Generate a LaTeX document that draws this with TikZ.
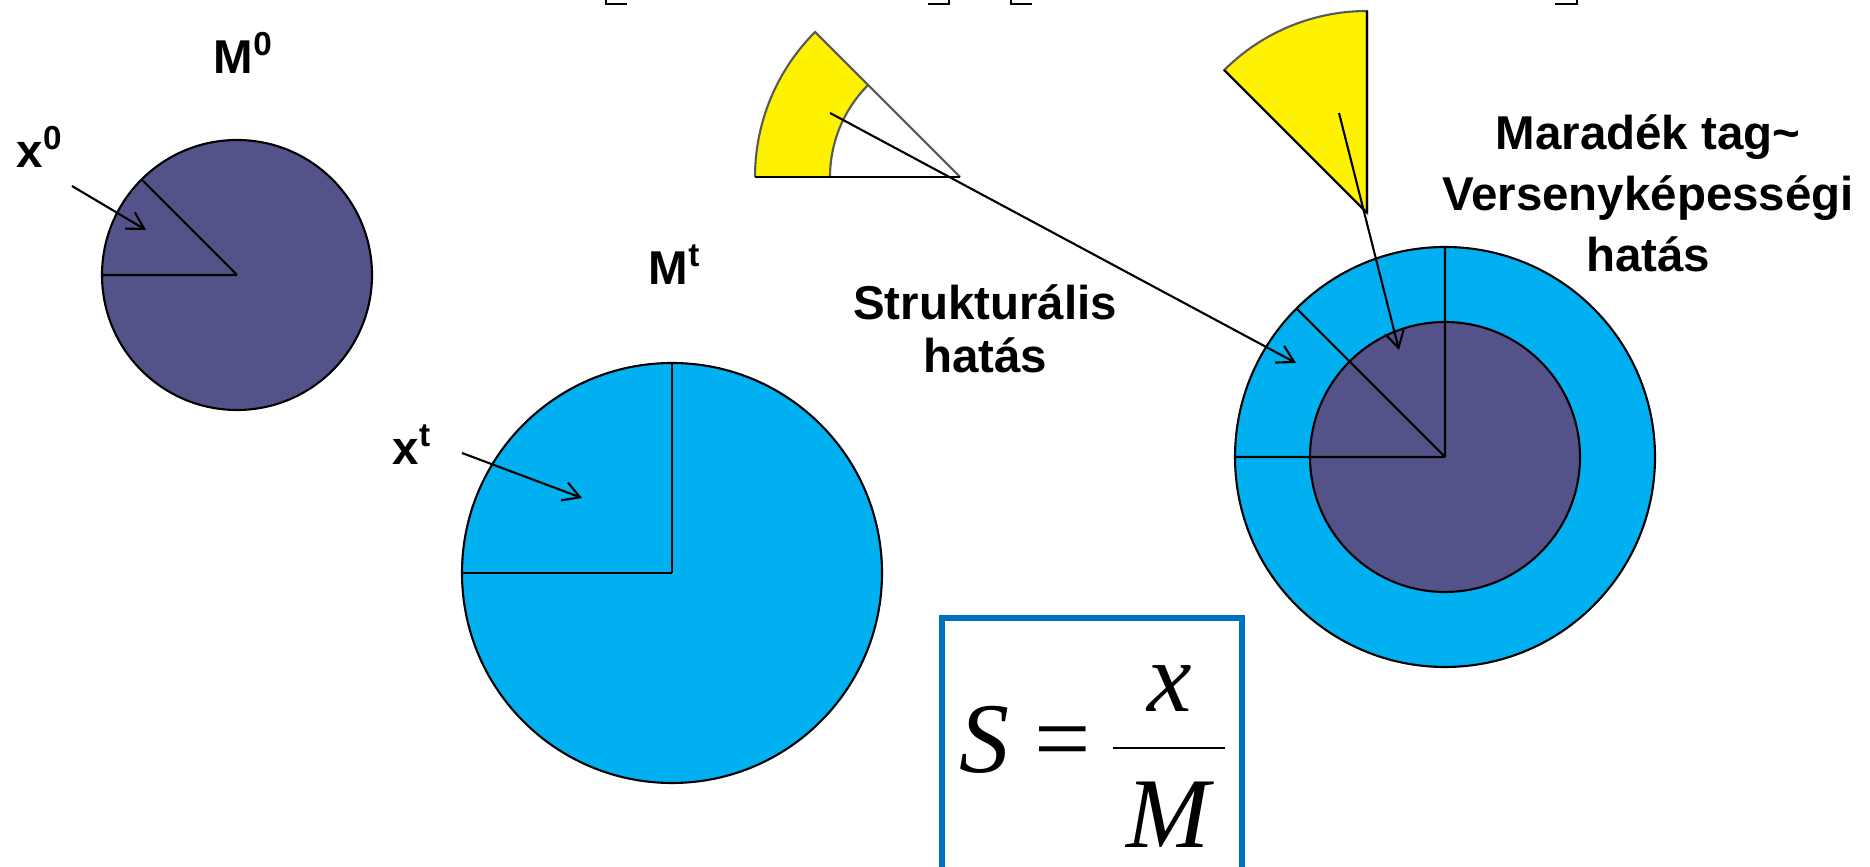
\documentclass[tikz,border=0pt]{standalone}
\usepackage{fontspec}
\setmainfont{Liberation Sans}
\newfontfamily\timesfont{Liberation Serif}
\usepackage{xcolor}
\usetikzlibrary{arrows.meta}
\definecolor{darkpie}{RGB}{83,83,137}
\definecolor{lightpie}{RGB}{0,176,240}
\definecolor{boxblue}{RGB}{0,112,192}
\tikzset{
lbl/.style={font=\fontsize{13.5}{15.1}\selectfont\bfseries,align=center,inner sep=0pt},
pie/.style={draw=black,line width=0.6pt},
ptr/.style={-{Straight Barb[length=1.65mm,width=1.9mm]},line width=0.6pt},
frm/.style={font=\fontsize{28.45}{30}\selectfont\timesfont\itshape,inner sep=0pt}}
\begin{document}
\begin{tikzpicture}[x=0.01cm,y=0.01cm]
\clip(0,0)rectangle(1870,867);
\fill[white](0,0)rectangle(1870,867);
\draw[line width=0.8pt](606,870)--(606,863)--(627,863) (928,863)--(949,863)--(949,870)
(1011,870)--(1011,863)--(1032,863) (1555,863)--(1577,863)--(1577,870);
\coordinate(c0)at(237,592);
\coordinate(ct)at(672,294);
\coordinate(cr)at(1445,410);
\coordinate(s1)at(960,690);
\coordinate(s2)at(1367,654);
\draw[pie,fill=darkpie](c0)circle(135);
\draw[pie](c0)--+(180:135) (c0)--+(135:135);
\draw[pie,fill=lightpie](ct)circle(210);
\draw[pie](ct)--+(180:210) (ct)--+(90:210);
\draw[pie,fill=lightpie](cr)circle(210);
\draw[pie,fill=darkpie](cr)circle(135);
\draw[pie](cr)--+(180:210) (cr)--+(90:210) (cr)--+(135:210);
\fill[yellow](s1)++(180:205)arc[start angle=180,end angle=135,radius=205]--++(315:75)
arc[start angle=135,end angle=180,radius=130]--cycle;
\draw[gray!70!black,line width=0.6pt](s1)++(180:205)arc[start angle=180,end angle=135,radius=205]--(s1);
\draw[gray!70!black,line width=0.6pt](s1)++(180:130)arc[start angle=180,end angle=135,radius=130];
\draw[line width=0.8pt](s1)--+(180:205);
\draw[gray!70!black,fill=yellow,line width=0.6pt](s2)--+(90:202)arc[start angle=90,end angle=135,radius=202]--cycle;
\draw[line width=0.6pt](s2)--+(90:202) (s2)--+(135:202);
\coordinate(t0)at(72,681);\coordinate(h0)at(146,637);
\coordinate(tt)at(462,414);\coordinate(ht)at(582,369);
\coordinate(t1)at(830,754);\coordinate(h1)at(1296,504);
\coordinate(t2)at(1339,754);\coordinate(h2)at(1399,517);
\draw[ptr](t0)--(h0);
\draw[ptr](tt)--(ht);
\draw[ptr](t1)--(h1);
\draw[ptr](t2)--(h2);
\node[lbl,anchor=base west](m0)at(213,793){M\textsuperscript{0}};
\node[lbl,anchor=base west](x0)at(16,699){x\textsuperscript{0}};
\node[lbl,anchor=base west](mt)at(648,582){M\textsuperscript{t}};
\node[lbl,anchor=base west](xt)at(392,402){x\textsuperscript{t}};
\node[lbl](struct)at(985,538){Strukturális\\hatás};
\node[lbl,font=\fontsize{13.5}{17.3}\selectfont\bfseries](marad)at(1648,674){Maradék tag\textasciitilde\\Versenyképességi\\hatás};
\draw[boxblue,line width=1.7pt](942,249)rectangle(1242,-20);
\node[frm,anchor=base west](fs)at(959,94){S};
\node[frm,anchor=base,font=\fontsize{28.45}{30}\selectfont\timesfont](feq)at(1063,94){=};
\node[frm,anchor=base](fx)at(1170,155){x};
\node[frm,anchor=base](fm)at(1168,19){M};
\draw[line width=0.85pt](1113,119)--(1225,119);
\end{tikzpicture}
\end{document}
